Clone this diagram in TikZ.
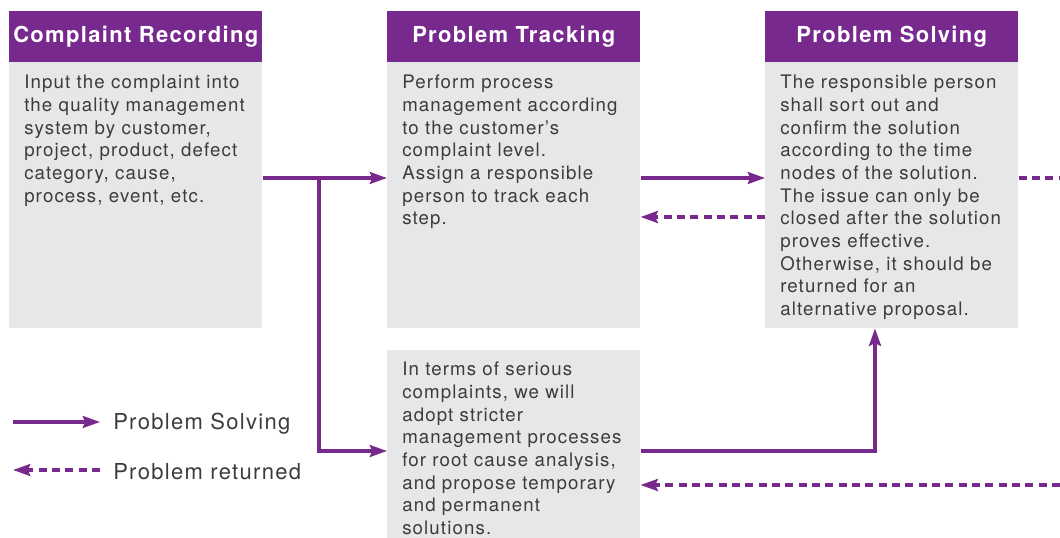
\documentclass[tikz,border=0pt]{standalone}
\usepackage{fontspec}
\setmainfont{TeX Gyre Heros}[LetterSpace=6]
\usetikzlibrary{arrows.meta, calc}
\definecolor{cpurple}{RGB}{119,41,142}
\definecolor{cgray}{RGB}{230,231,232}
\definecolor{ctext}{RGB}{60,60,60}

\begin{document}
\begin{tikzpicture}[x=0.75pt, y=-0.75pt,
		head/.style={fill=cpurple, text=white, font=\fontsize{16.5}{20}\selectfont\bfseries, minimum width=189.75pt, minimum height=38.25pt, inner sep=0, anchor=north west},
		body/.style={fill=cgray, minimum width=189.75pt, minimum height=199.5pt, inner sep=0, anchor=north west},
		txt/.style={text=ctext, font=\fontsize{14}{17}\selectfont, align=left, anchor=north west, inner sep=0},
		go/.style={cpurple, line width=2.3pt, -{Stealth[length=13pt,width=9pt,inset=2pt]}},
		back/.style={go, dash pattern=on 6pt off 4pt}]
		\useasboundingbox (0,0) rectangle (1060,538);
		
		% boxes
		\node[head] (h1) at (9,11) {Complaint Recording};
		\node[body] (b1) at (9,62) {};
		\node[txt] (t1) at (24,75) {Input the complaint into\\the quality management\\system by customer,\\project, product, defect\\category, cause,\\process, event, etc.};
		
		\node[head] (h2) at (387,11) {Problem Tracking};
		\node[body] (b2) at (387,62) {};
		\node[txt] (t2) at (402,75) {Perform process\\management according\\to the customer's\\complaint level.\\Assign a responsible\\person to track each\\step.};
		
		\node[head] (h3) at (765,11) {Problem Solving};
		\node[body] (b3) at (765,62) {};
		\node[txt] (t3) at (780,75) {The responsible person\\shall sort out and\\confirm the solution\\according to the time\\nodes of the solution.\\The issue can only be\\closed after the solution\\proves effective.\\Otherwise, it should be\\returned for an\\alternative proposal.};
		
		\node[body, minimum height=141pt] (b4) at (387,350) {};
		\node[txt] (t4) at (402,362) {In terms of serious\\complaints, we will\\adopt stricter\\management processes\\for root cause analysis,\\and propose temporary\\and permanent\\solutions.};
		
		% connectors
		\coordinate (j1) at (319,178);
		\coordinate (j2) at (319,451);
		\coordinate (j3) at (875,451);
		\coordinate (r1) at (700,217);
		\coordinate (e1) at (1060,178);
		\coordinate (e2) at (1060,485);
		\draw[go] (j1 -| b1.east) -- (j1 -| b2.west);
		\draw[go] (j1) -- (j2) -- (j2 -| b4.west);
		\draw[go] (j1 -| b2.east) -- (j1 -| b3.west);
		\draw[back] (r1 -| b3.west) -- (r1 -| b2.east);
		\draw[back, -] (e1 -| b3.east) -- (e1);
		\draw[go] (j2 -| b4.east) -- (j3) -- (j3 |- b3.south);
		\draw[back] (e2) -- (e2 -| b4.east);
		
		% legend
		\coordinate (s1) at (13,422);
		\coordinate (s2) at (100,422);
		\coordinate (s3) at (100,470);
		\coordinate (s4) at (13,470);
		\draw[go] (s1) -- (s2);
		\draw[back] (s3) -- (s4);
		\node[text=ctext, font=\fontsize{16.5}{20}\selectfont, anchor=west, inner sep=0] (l1) at (113,424) {Problem Solving};
		\node[text=ctext, font=\fontsize{16.5}{20}\selectfont, anchor=west, inner sep=0] (l2) at (113,472) {Problem returned};
\end{tikzpicture}
\end{document}
